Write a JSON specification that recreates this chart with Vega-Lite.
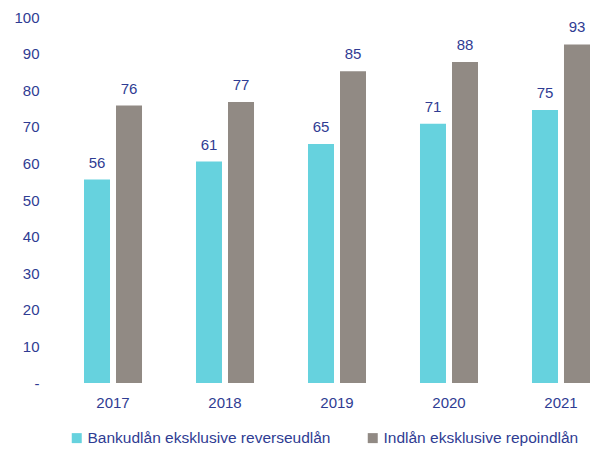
{
  "$schema": "https://vega.github.io/schema/vega-lite/v6.json",
  "autosize": {"type": "none"},
  "padding": {"left": 84, "top": 17, "right": 3, "bottom": 66},
  "width": 506,
  "height": 366,
  "background": "white",
  "config": {
    "view": {"stroke": null},
    "font": "Liberation Sans"
  },
  "data": {
    "values": [
      {"year": "2017", "series": "Bankudlån eksklusive reverseudlån", "value": 55.6},
      {"year": "2017", "series": "Indlån eksklusive repoindlån", "value": 75.8},
      {"year": "2018", "series": "Bankudlån eksklusive reverseudlån", "value": 60.5},
      {"year": "2018", "series": "Indlån eksklusive repoindlån", "value": 76.8},
      {"year": "2019", "series": "Bankudlån eksklusive reverseudlån", "value": 65.3},
      {"year": "2019", "series": "Indlån eksklusive repoindlån", "value": 85.2},
      {"year": "2020", "series": "Bankudlån eksklusive reverseudlån", "value": 70.8},
      {"year": "2020", "series": "Indlån eksklusive repoindlån", "value": 87.7},
      {"year": "2021", "series": "Bankudlån eksklusive reverseudlån", "value": 74.6},
      {"year": "2021", "series": "Indlån eksklusive repoindlån", "value": 92.5}
    ]
  },
  "encoding": {
    "x": {
      "field": "year", "type": "nominal",
      "scale": {"paddingInner": 0.482, "paddingOuter": 0},
      "axis": {"title": null, "labelAngle": 0, "domain": false, "ticks": false, "labelPadding": 12, "labelFontSize": 15, "labelColor": "#2F3C93", "labelFont": "Liberation Sans"}
    },
    "xOffset": {
      "field": "series", "type": "nominal",
      "scale": {"domain": ["Bankudlån eksklusive reverseudlån", "Indlån eksklusive repoindlån"], "paddingInner": 0.1875, "paddingOuter": 0}
    },
    "y": {
      "field": "value", "type": "quantitative",
      "scale": {"domain": [0, 100], "nice": false},
      "axis": {"title": null, "values": [0,10,20,30,40,50,60,70,80,90,100], "labelExpr": "datum.value == 0 ? '-' : datum.label", "domain": false, "ticks": false, "grid": false, "labelPadding": 45, "labelFontSize": 15, "labelColor": "#2F3C93", "labelFont": "Liberation Sans"}
    }
  },
  "layer": [
    {
      "mark": {"type": "bar"},
      "encoding": {
        "color": {
          "field": "series", "type": "nominal",
          "scale": {"domain": ["Bankudlån eksklusive reverseudlån", "Indlån eksklusive repoindlån"], "range": ["#66D2DE", "#918A84"]},
          "legend": {"title": null, "orient": "none", "direction": "horizontal", "legendX": -15, "legendY": 413, "symbolType": "square", "symbolSize": 100, "symbolStrokeWidth": 0, "labelFontSize": 15.5, "labelColor": "#2F3C93", "labelFont": "Liberation Sans", "columnPadding": 34, "labelOffset": 3, "labelLimit": 400}
        }
      }
    },
    {
      "mark": {"type": "text", "dy": -17, "fontSize": 15, "color": "#2F3C93", "font": "Liberation Sans"},
      "encoding": {
        "text": {"field": "value", "type": "quantitative", "format": ".0f"}
      }
    }
  ]
}
